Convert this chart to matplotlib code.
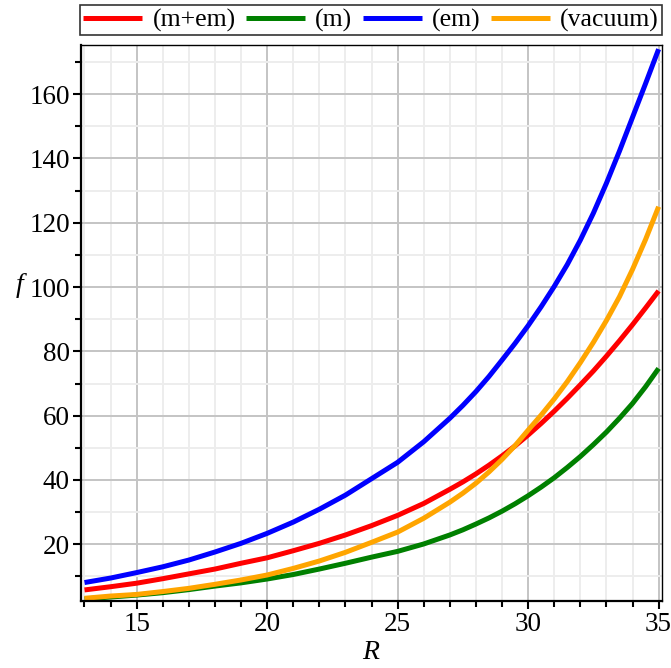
import matplotlib
matplotlib.use("Agg")
import matplotlib.pyplot as plt
from matplotlib.ticker import MultipleLocator

# values (finer steps where the curves bend hard)
r_vals = [13, 14, 15, 16, 17, 18, 19, 20, 21, 22, 23, 24, 25, 26, 27,
          27.5, 28, 28.5, 29, 29.5, 30, 30.5, 31, 31.5, 32, 32.5, 33,
          33.5, 34, 34.5, 35]
f_m_em = [5.8, 6.8, 7.9, 9.3, 10.8, 12.3, 14.1, 15.8, 18.0, 20.3, 22.9, 25.8,
          29.0, 32.7, 37.1, 39.4, 41.9, 44.6, 47.5, 50.6, 54.0, 57.6, 61.4,
          65.4, 69.6, 73.9, 78.5, 83.3, 88.3, 93.5, 98.8]
f_m = [3.0, 3.6, 4.2, 4.95, 5.9, 7.0, 8.0, 9.2, 10.6, 12.3, 14.1, 16.0,
       17.8, 20.1, 22.9, 24.5, 26.3, 28.2, 30.3, 32.6, 35.1, 37.8, 40.7,
       43.9, 47.3, 51.0, 54.9, 59.2, 63.8, 69.0, 74.7]
f_em = [8.1, 9.5, 11.2, 13.0, 15.1, 17.6, 20.3, 23.4, 26.9, 30.9, 35.3, 40.4,
        45.5, 51.9, 59.2, 63.2, 67.5, 72.2, 77.3, 82.5, 88.0, 93.9, 100.2,
        107.0, 114.6, 123.0, 132.3, 142.3, 152.8, 163.3, 174.0]
f_vac = [3.2, 3.9, 4.4, 5.3, 6.3, 7.55, 8.9, 10.45, 12.5, 14.8, 17.5, 20.6,
         23.8, 28.1, 33.1, 35.9, 39.0, 42.5, 46.4, 50.7, 55.5, 60.2, 65.2,
         70.6, 76.5, 82.8, 89.6, 97.0, 105.5, 114.8, 125.0]

labels = ["(m+em)", "(m)", "(em)", "(vacuum)"]
colors = ["#ff0000", "#008000", "#0000ff", "#ffa500"]
series = [f_m_em, f_m, f_em, f_vac]

plt.rcParams['font.family'] = ['Liberation Serif', 'DejaVu Serif']

fig = plt.figure(figsize=(6.71, 6.68), dpi=100)
ax = fig.add_axes([81 / 671, 67 / 668, 581 / 671, 556 / 668])

for ys, c, lab in zip(series, colors, labels):
    ax.plot(r_vals, ys, color=c, lw=3.6, label=lab, solid_capstyle='butt',
            solid_joinstyle='round')

ax.set_xlim(12.866, 35.13)
ax.set_ylim(2.36, 175.3)

ax.xaxis.set_major_locator(MultipleLocator(5))
ax.xaxis.set_minor_locator(MultipleLocator(1))
ax.yaxis.set_minor_locator(MultipleLocator(10))
ax.set_yticks([20, 40, 60, 80, 100, 120, 140, 160])

ax.grid(True, which='major', color='#c4c4c4', lw=1.4)
ax.grid(True, which='minor', color='#ededed', lw=1.4)
ax.set_axisbelow(True)

ax.tick_params(which='major', direction='out', length=6, width=1.5,
               labelsize=19.5, pad=2, colors='black')
ax.tick_params(which='minor', direction='out', length=4, width=1.5)
ax.tick_params(top=False, right=False)

for side in ['left', 'bottom']:
    ax.spines[side].set_linewidth(1.6)
for side in ['top', 'right']:
    ax.spines[side].set_linewidth(1.0)

ax.set_xlabel("R", fontsize=20, fontstyle='italic')
ax.xaxis.set_label_coords(0.498, -0.07)
ax.set_ylabel("f", fontsize=20, fontstyle='italic', rotation=0, va='center')
ax.yaxis.set_label_coords(-0.105, 0.567)

leg = fig.legend(loc='lower left', ncol=4, fontsize=18.5,
                 bbox_to_anchor=(80 / 671, 1 - 35 / 668, 582 / 671, 33 / 668),
                 mode='expand', borderaxespad=0, frameon=True, fancybox=False,
                 handlelength=2.3, handletextpad=0.4, borderpad=0.12,
                 columnspacing=0.5)
leg.get_frame().set_edgecolor('black')
leg.get_frame().set_linewidth(1.2)

fig.savefig("out.png", dpi=100)
